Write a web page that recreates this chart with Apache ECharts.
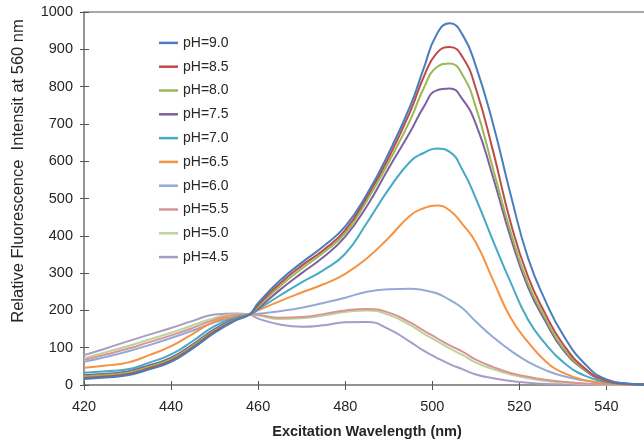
<!DOCTYPE html>
<html>
<head>
<meta charset="utf-8">
<script src="https://cdn.jsdelivr.net/npm/echarts@6/dist/echarts.min.js"></script>
<style>
html, body { margin: 0; padding: 0; background: #fff; }
#main { width: 644px; height: 440px; }
</style>
</head>
<body>
<div id="main"></div>
<script>
// excitation wavelength (nm)
var wavelengths = [420, 425, 430, 435, 440, 445, 450, 455, 458, 460, 465, 470, 475, 480, 485, 490, 495, 498, 501, 504, 507, 510, 514, 518, 522, 526, 530, 535, 540, 545, 550]

// relative fluorescence intensity at 560 nm, one array per pH
var ph90 = [16, 20, 26, 42, 62, 98, 140, 174, 189, 220, 280, 328, 372, 425, 512, 622, 750, 848, 940, 970, 938, 855, 698, 510, 340, 225, 135, 57, 15, 4, 1]
var ph85 = [19, 23, 29, 45, 65, 101, 143, 175, 189, 215, 272, 320, 362, 415, 505, 610, 735, 825, 890, 906, 878, 795, 625, 435, 290, 190, 110, 45, 12, 3, 1]
var ph80 = [23, 27, 33, 49, 69, 105, 146, 177, 189, 210, 265, 312, 355, 407, 495, 598, 712, 795, 852, 862, 830, 745, 578, 410, 272, 178, 100, 42, 11, 3, 1]
var ph75 = [26, 30, 36, 53, 73, 109, 150, 178, 189, 205, 255, 300, 343, 398, 480, 582, 680, 745, 790, 795, 765, 700, 555, 395, 262, 170, 95, 40, 10, 3, 1]
var ph70 = [33, 37, 42, 60, 82, 118, 158, 181, 189, 203, 240, 275, 308, 352, 435, 525, 600, 622, 634, 625, 575, 500, 385, 275, 175, 110, 62, 25, 8, 2, 1]
var ph65 = [46, 52, 60, 80, 104, 137, 170, 184, 189, 200, 225, 248, 270, 298, 340, 395, 455, 474, 481, 468, 430, 382, 280, 180, 115, 64, 33, 13, 5, 2, 1]
var ph60 = [62, 75, 90, 107, 126, 146, 168, 184, 189, 191, 198, 207, 220, 234, 250, 257, 258, 254, 246, 228, 205, 170, 128, 92, 62, 40, 24, 12, 5, 2, 1]
var ph55 = [67, 82, 97, 115, 133, 153, 175, 188, 189, 188, 180, 182, 190, 200, 204, 194, 167, 146, 126, 106, 89, 68, 48, 32, 22, 14, 9, 4, 2, 1, 0]
var ph50 = [72, 88, 104, 122, 140, 160, 180, 190, 189, 186, 177, 179, 186, 196, 200, 188, 160, 138, 118, 98, 80, 60, 42, 28, 18, 11, 7, 3, 1, 0, 0]
var ph45 = [80, 98, 117, 135, 153, 172, 189, 192, 189, 178, 162, 156, 160, 168, 169, 150, 115, 92, 73, 56, 42, 28, 18, 11, 6, 3, 2, 1, 0, 0, 0]

var names = ['pH=9.0', 'pH=8.5', 'pH=8.0', 'pH=7.5', 'pH=7.0', 'pH=6.5', 'pH=6.0', 'pH=5.5', 'pH=5.0', 'pH=4.5']
var curves = [ph90, ph85, ph80, ph75, ph70, ph65, ph60, ph55, ph50, ph45]
var colors = ['#4a7ebb', '#be4b48', '#98b954', '#7d60a0', '#46aac5', '#f59243', '#94aad6', '#d99593', '#bdd39a', '#a99bc6']

var axisColor = '#8c8c8c'
var textColor = '#262626'
var fontName = '"Liberation Sans", Arial, sans-serif'

function makeSeries() {
	var list = []
	for (var i = 0; i < curves.length; i++) {
		var pts = []
		for (var j = 0; j < wavelengths.length; j++) {
			pts.push([wavelengths[j], curves[i][j]])
		}
		list.push({
			name: names[i],
			type: 'line',
			data: pts,
			smooth: 0.5,
			symbol: 'none',
			lineStyle: { width: 2, color: colors[i] },
			itemStyle: { color: colors[i] },
			z: 10 - i
		})
	}
	return list
}

var chart = echarts.init(document.getElementById('main'), null, { renderer: 'canvas' })

var option = {
	animation: false,
	color: colors,
	textStyle: { fontFamily: fontName },
	grid: {
		left: 84,
		top: 12,
		right: -6,
		bottom: 55,
		outerBoundsMode: 'none',
		show: true,
		borderColor: axisColor,
		borderWidth: 1.5,
		backgroundColor: 'transparent'
	},
	legend: {
		orient: 'vertical',
		left: 159,
		top: 31,
		padding: 0,
		itemGap: 0,
		itemWidth: 19,
		itemHeight: 2.5,
		icon: 'rect',
		data: names,
		textStyle: { fontSize: 14, color: textColor, lineHeight: 23.8, fontFamily: fontName }
	},
	xAxis: [{
		type: 'value',
		min: 420,
		max: 550,
		interval: 20,
		name: 'Excitation Wavelength (nm)',
		nameLocation: 'middle',
		nameGap: 39,
		nameTextStyle: { fontSize: 14.5, fontWeight: 'bold', color: textColor, fontFamily: fontName },
		axisLine: { show: true, lineStyle: { color: axisColor, width: 1.5 } },
		axisTick: { show: true, length: 5, lineStyle: { color: '#555', width: 1 } },
		axisLabel: { fontSize: 14.5, color: textColor, margin: 14, showMaxLabel: false },
		splitLine: { show: false }
	}, {
		type: 'value',
		position: 'bottom',
		min: 420,
		max: 550,
		interval: 20,
		axisLine: { show: false },
		axisTick: { show: true, inside: true, length: 4, lineStyle: { color: '#555', width: 1 } },
		axisLabel: { show: false },
		splitLine: { show: false }
	}],
	yAxis: [{
		type: 'value',
		min: 0,
		max: 1000,
		interval: 100,
		axisLine: { show: true, lineStyle: { color: axisColor, width: 1.5 } },
		axisTick: { show: true, length: 4, lineStyle: { color: '#555', width: 1 } },
		axisLabel: {
			fontSize: 14.5,
			color: textColor,
			margin: 11,
			formatter: function (v) { return String(v) }
		},
		splitLine: { show: false }
	}, {
		type: 'value',
		position: 'left',
		min: 0,
		max: 1000,
		interval: 100,
		axisLine: { show: false },
		axisTick: { show: true, inside: true, length: 5, lineStyle: { color: '#555', width: 1 } },
		axisLabel: { show: false },
		splitLine: { show: false }
	}],
	graphic: [{
		type: 'text',
		x: 18,
		y: 171,
		rotation: Math.PI / 2,
		style: {
			text: 'Relative Fluorescence  Intensit at 560 nm',
			fontSize: 16.5,
			fontFamily: fontName,
			fill: textColor,
			align: 'center',
			verticalAlign: 'middle'
		}
	}],
	series: makeSeries()
}

chart.setOption(option)
</script>
</body>
</html>
